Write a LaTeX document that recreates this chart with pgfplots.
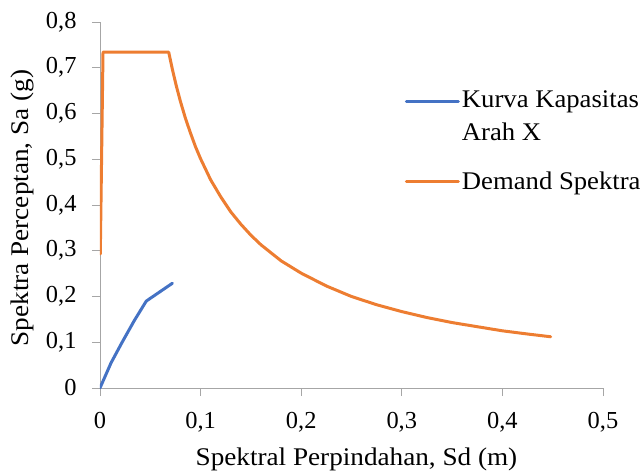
\documentclass[border=0pt]{standalone}
\usepackage{fontspec}
\setmainfont{Liberation Serif}
\newfontfamily\labelfont[FakeStretch=1.07]{Liberation Serif}
\newfontfamily\legfont[FakeStretch=1.05]{Liberation Serif}
\usepackage{pgfplots}
\pgfplotsset{compat=1.18}
\definecolor{xlblue}{HTML}{4472C4}
\definecolor{xlorange}{HTML}{ED7D31}
\definecolor{axisgray}{HTML}{A6A6A6}
\pgfplotsset{
  normleg/.style={legend image code/.code={\draw[##1] (0bp,0bp) -- (52bp,0bp);}},
  shiftleg/.style={legend image code/.code={\draw[##1] (0bp,15bp) -- (52bp,15bp);}},
}
\begin{document}
\begin{tikzpicture}
\useasboundingbox (-100bp,-87bp) rectangle (542bp,388bp);
\begin{axis}[
  at={(0,0)}, anchor=south west,
  scale only axis, width=503bp, height=366bp,
  xmin=0, xmax=0.5, ymin=0, ymax=0.8,
  axis lines*=left,
  axis line style={draw=axisgray, line width=0.8bp},
  xtick={0,0.1,0.2,0.3,0.4,0.5},
  ytick={0,0.1,0.2,0.3,0.4,0.5,0.6,0.7,0.8},
  tick align=outside, major tick length=8bp,
  tick style={draw=axisgray, line width=0.8bp},
  /pgf/number format/.cd, use comma, fixed, precision=1, assume math mode=true, /pgfplots/.cd,
  ticklabel style={font=\fontsize{24.5}{29}\selectfont},
  xticklabel style={yshift=-13bp},
  yticklabel style={xshift=-12bp},
  xlabel={Spektral Perpindahan, Sd (m)},
  ylabel={Spektra Perceptan, Sa (g)},
  label style={font=\labelfont\fontsize{25.5}{30}\selectfont},
  xlabel style={yshift=-9bp, xshift=5bp},
  ylabel style={yshift=5bp, xshift=-3bp},
  legend style={draw=none, fill=none, at={(axis cs:0.300,0.659)}, anchor=north west,
    font=\legfont\fontsize{25.5}{33}\selectfont, row sep=26bp,
    nodes={align=left, inner xsep=2bp}},
  legend cell align=left,
  normleg,
]
\addplot[xlblue, line width=3bp, line join=round, line cap=round, shiftleg] coordinates {
(0,0) (0.011,0.055) (0.022,0.1) (0.034,0.147) (0.046,0.19) (0.072,0.229)};
\addlegendentry{Kurva Kapasitas\\Arah X}
\addplot[xlorange, line width=3bp, line join=round, line cap=round] coordinates {
(0.0003,0.293) (0.003,0.734) (0.0683,0.734) (0.072,0.696) (0.076,0.659) (0.08,0.626)
(0.085,0.589) (0.09,0.557) (0.095,0.527) (0.1,0.501) (0.11,0.455) (0.12,0.418)
(0.13,0.385) (0.14,0.358) (0.15,0.334) (0.16,0.313) (0.18,0.278) (0.2,0.251)
(0.225,0.223) (0.25,0.200) (0.275,0.182) (0.3,0.167) (0.325,0.154) (0.35,0.143)
(0.375,0.134) (0.4,0.125) (0.425,0.118) (0.448,0.112)};
\addlegendentry{Demand Spektra}
\end{axis}
\end{tikzpicture}
\end{document}
